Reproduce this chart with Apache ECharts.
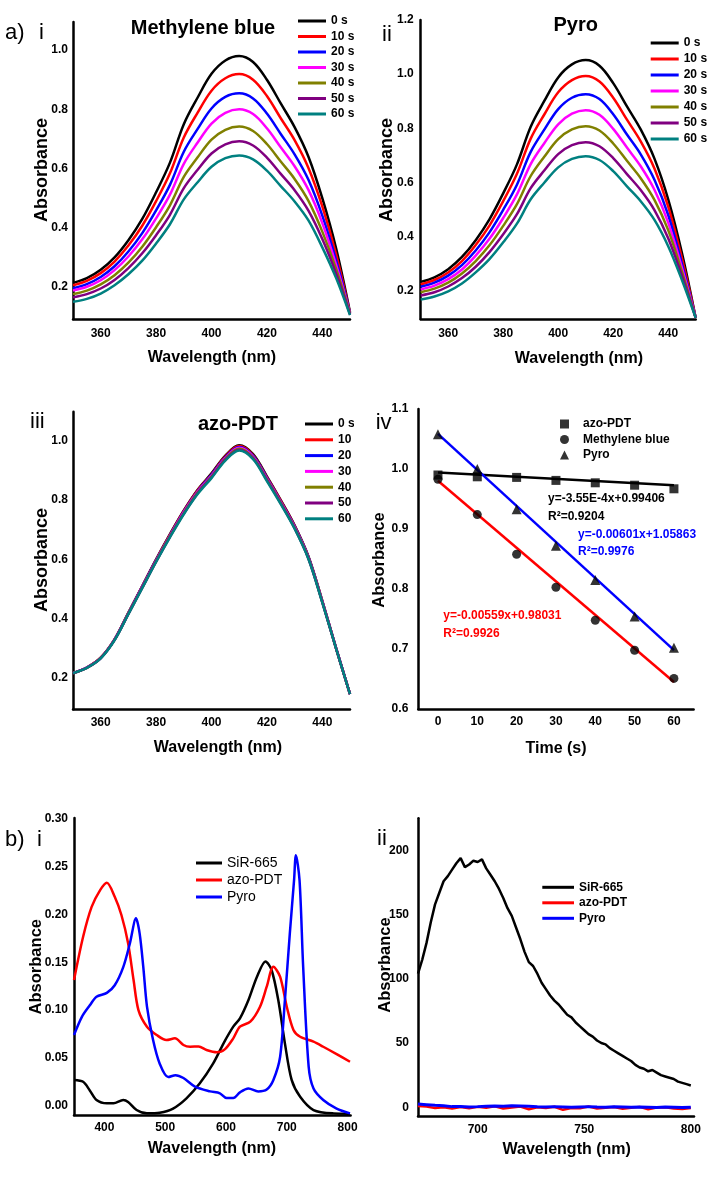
<!DOCTYPE html>
<html><head><meta charset="utf-8">
<script src="https://cdn.jsdelivr.net/npm/echarts@6/dist/echarts.min.js"></script>
<style>html,body{margin:0;padding:0;background:#fff;width:708px;height:1178px;overflow:hidden}.p{position:absolute}</style>
</head><body>
<script>
// ---------- data ----------
const wlA = [350,355,360,365,370,375,380,385,390,395,400,405,410,415,420,425,430,435,440,445,450];
const timeLabels = ['0 s','10 s','20 s','30 s','40 s','50 s','60 s'];
const timeColors = ['#000000','#ff0000','#0000ff','#ff00ff','#808000','#800080','#008080'];
// a-i Methylene blue
const mb0  = [0.214,0.230,0.258,0.300,0.358,0.430,0.520,0.620,0.750,0.840,0.920,0.965,0.980,0.960,0.900,0.820,0.740,0.640,0.500,0.330,0.115];
const mb10 = [0.206,0.221,0.247,0.286,0.340,0.407,0.490,0.584,0.705,0.789,0.863,0.905,0.919,0.900,0.845,0.770,0.696,0.602,0.472,0.310,0.113];
const mb20 = [0.196,0.210,0.234,0.270,0.320,0.382,0.459,0.545,0.657,0.734,0.803,0.842,0.854,0.837,0.786,0.717,0.648,0.562,0.441,0.290,0.112];
const mb30 = [0.188,0.201,0.223,0.257,0.303,0.361,0.432,0.512,0.616,0.688,0.752,0.788,0.800,0.784,0.736,0.672,0.608,0.528,0.416,0.275,0.111];
const mb40 = [0.176,0.188,0.209,0.240,0.282,0.336,0.402,0.476,0.572,0.638,0.698,0.731,0.742,0.727,0.683,0.624,0.565,0.491,0.387,0.260,0.110];
const mb50 = [0.165,0.176,0.195,0.224,0.264,0.314,0.375,0.444,0.534,0.596,0.651,0.682,0.692,0.678,0.637,0.582,0.527,0.458,0.362,0.245,0.108];
const mb60 = [0.150,0.160,0.178,0.206,0.243,0.289,0.347,0.412,0.496,0.554,0.606,0.635,0.644,0.631,0.593,0.541,0.489,0.425,0.334,0.230,0.105];
// a-ii Pyro
const py0  = [0.233,0.250,0.280,0.325,0.387,0.464,0.560,0.667,0.806,0.902,0.988,1.036,1.052,1.031,0.967,0.881,0.796,0.688,0.538,0.340,0.100];
const py10 = [0.224,0.240,0.268,0.310,0.369,0.441,0.531,0.632,0.762,0.852,0.933,0.978,0.993,0.973,0.913,0.832,0.752,0.652,0.511,0.320,0.100];
const py20 = [0.215,0.230,0.256,0.295,0.349,0.416,0.499,0.592,0.713,0.796,0.871,0.913,0.926,0.908,0.852,0.777,0.704,0.610,0.480,0.300,0.100];
const py30 = [0.205,0.219,0.243,0.279,0.330,0.392,0.469,0.556,0.668,0.746,0.815,0.854,0.867,0.850,0.798,0.729,0.660,0.573,0.452,0.285,0.100];
const py40 = [0.195,0.208,0.230,0.264,0.310,0.368,0.440,0.520,0.624,0.696,0.760,0.796,0.808,0.792,0.744,0.680,0.616,0.536,0.424,0.270,0.100];
const py50 = [0.183,0.195,0.216,0.247,0.289,0.343,0.409,0.483,0.579,0.645,0.705,0.738,0.749,0.734,0.690,0.631,0.572,0.498,0.394,0.255,0.100];
const py60 = [0.168,0.179,0.198,0.227,0.268,0.317,0.379,0.448,0.538,0.600,0.656,0.687,0.697,0.683,0.642,0.586,0.531,0.462,0.365,0.240,0.100];
// a-iii azo-PDT
const az0  = [0.216,0.235,0.268,0.330,0.420,0.510,0.600,0.685,0.765,0.835,0.890,0.950,0.985,0.955,0.880,0.800,0.715,0.610,0.460,0.300,0.145];
const az10 = [0.216,0.235,0.268,0.330,0.419,0.509,0.598,0.683,0.763,0.833,0.887,0.947,0.982,0.952,0.877,0.798,0.713,0.608,0.459,0.300,0.145];
const az20 = [0.216,0.235,0.267,0.329,0.418,0.508,0.597,0.681,0.761,0.830,0.885,0.944,0.979,0.949,0.875,0.795,0.711,0.607,0.458,0.300,0.145];
const az30 = [0.216,0.235,0.267,0.329,0.417,0.506,0.595,0.679,0.759,0.828,0.882,0.941,0.976,0.946,0.872,0.793,0.709,0.605,0.457,0.299,0.145];
const az40 = [0.216,0.234,0.267,0.328,0.417,0.505,0.594,0.678,0.756,0.825,0.879,0.939,0.973,0.943,0.870,0.791,0.707,0.604,0.456,0.298,0.145];
const az50 = [0.216,0.234,0.267,0.328,0.416,0.504,0.592,0.676,0.754,0.823,0.877,0.936,0.970,0.941,0.867,0.789,0.705,0.602,0.455,0.298,0.145];
const az60 = [0.216,0.234,0.266,0.327,0.415,0.503,0.591,0.674,0.752,0.820,0.874,0.933,0.967,0.938,0.864,0.786,0.703,0.601,0.454,0.298,0.145];
// a-iv kinetics
const timeS   = [0,10,20,30,40,50,60];
const ivAzo   = [0.990,0.987,0.986,0.981,0.977,0.973,0.967];
const ivMB    = [0.983,0.924,0.858,0.803,0.748,0.698,0.651];
const ivPyro  = [1.058,1.000,0.933,0.872,0.815,0.754,0.702];
const fitX    = [0,60];
const fitAzo  = [0.99406,0.97276];
const fitMB   = [0.98031,0.64491];
const fitPyro = [1.05863,0.69803];
const eqAzo  = ['y=-3.55E-4x+0.99406','R\u00B2=0.9204'];
const eqPyro = ['y=-0.00601x+1.05863','R\u00B2=0.9976'];
const eqMB   = ['y=-0.00559x+0.98031','R\u00B2=0.9926'];
// b-i absorption
const sirX = [350,365,376,387,404,415,431,439,453,470,491,513,535,557,579,596,612,623,637,651,665,675,686,697,708,722,744,777,804];
const sirY = [0.027,0.025,0.016,0.006,0.0025,0.0025,0.006,0.004,-0.0045,-0.008,-0.0073,-0.003,0.0077,0.0234,0.0443,0.0653,0.0827,0.0914,0.1106,0.135,0.151,0.142,0.1106,0.065,0.027,0.0094,-0.0045,-0.008,-0.0083];
const azoX = [350,365,379,393,404,417,428,439,448,456,470,486,502,516,530,541,555,568,585,598,612,623,640,656,667,678,689,700,711,722,744,760,782,804];
const azoY = [0.1315,0.1768,0.208,0.2256,0.2333,0.2186,0.1995,0.170,0.1315,0.1001,0.0827,0.074,0.0687,0.0705,0.0635,0.0617,0.062,0.0583,0.0559,0.059,0.0705,0.0827,0.0879,0.1036,0.1245,0.1454,0.135,0.1036,0.0792,0.0722,0.067,0.0617,0.054,0.046];
const pyrX = [350,363,376,387,404,417,431,442,452,458,464,470,480,491,505,517,530,549,574,590,601,612,623,637,653,667,678,689,697,705,712,715,721,727,736,744,760,782,804];
const pyrY = [0.074,0.093,0.105,0.114,0.118,0.126,0.145,0.170,0.196,0.180,0.145,0.104,0.069,0.044,0.030,0.032,0.029,0.020,0.015,0.013,0.008,0.008,0.014,0.018,0.015,0.017,0.027,0.051,0.111,0.180,0.236,0.262,0.236,0.145,0.041,0.018,0.006,-0.003,-0.008];
// b-ii emission
const emX  = [672,674,676,678,680,682,684,686,688,690,692,694,696,698,700,702,704,706,708,710,712,714,716,718,720,722,724,726,728,730,732,734,736,738,740,742,744,746,748,750,752,754,756,758,760,762,764,766,768,770,772,774,776,778,780,782,784,786,788,790,792,794,796,798,800];
const emSir= [104,115,128,144,158,167,176,180,185,190,194,187,189,192,191,193,186,181,176,170,163,155,149,140,131,121,113,110,104,97,92,87,83,80,76,72,70,66,63,60,57,55,52,50,49,46,44,42,40,38,36,33,31,30,28,29,27,25,24,23,22,20,19,18,17];
const emX2 = [672,676,680,684,688,692,696,700,704,708,712,716,720,724,728,732,736,740,744,748,752,756,760,764,768,772,776,780,784,788,792,796,800];
const emAzo= [1,0.5,-0.5,0,-1,0.2,-0.8,0.3,-0.4,0.8,-1,-0.2,0.5,-1.5,0,-0.6,0.4,-2,-0.5,-0.8,0.6,-1,-0.3,0.2,-1.2,-0.4,0.3,-1.5,-0.2,0,-0.9,-1.3,-0.5];
const emPyr= [2.5,2,1.5,1.2,0.5,0.6,0.3,0.5,0.8,1,0.7,1.2,1,0.8,0.4,0.2,0.5,0.3,0.1,0.3,0.5,0.2,0.1,0.4,0.2,0,0.3,0.1,-0.1,0.2,0,-0.2,0.1];
const bNames = ['SiR-665','azo-PDT','Pyro'];
const bColors = ['#000000','#ff0000','#0000ff'];
const tickA = [360,380,400,420,440];

// ---------- helpers ----------
const FONT = '"Liberation Sans", Arial, Helvetica, sans-serif';
const zip = (xs, ys) => xs.map((x, i) => [x, ys[i]]);
function mk(left, top, w, h, opt) {
  const d = document.createElement('div');
  d.className = 'p';
  d.style.cssText = `left:${left}px;top:${top}px;width:${w}px;height:${h}px`;
  document.body.appendChild(d);
  const c = echarts.init(d, null, {renderer: 'canvas'});
  opt.animation = false;
  opt.backgroundColor = 'transparent';
  c.setOption(opt);
  return c;
}
function axis(min, max, ticks, margin, fmt) {
  return {
    type: 'value', min, max,
    axisLine: {show: true, onZero: false, lineStyle: {color: '#000', width: 2.5}},
    axisTick: {show: false}, splitLine: {show: false},
    axisLabel: {customValues: ticks, margin, color: '#000', fontWeight: 'bold', fontSize: 12,
      fontFamily: FONT, formatter: fmt || (v => String(v))}
  };
}
function txt(x, y, s, size, weight, color, align, rot) {
  const t = {type: 'text', x, y, silent: true,
    style: {text: s, fontSize: size, fontWeight: weight, fontFamily: FONT, fill: color,
      align: align || 'center', verticalAlign: 'middle'}};
  if (rot) t.rotation = rot;
  return t;
}
function lines(arrs, names, colors, width) {
  return arrs.map((a, i) => ({
    type: 'line', name: names[i], data: zip(wlA, a), showSymbol: false, symbol: 'none',
    smooth: 0.35, lineStyle: {color: colors[i], width: width}, itemStyle: {color: colors[i]}
  }));
}
function legendOf(left, top, names, w, h, gap, size, weight, lh) {
  return {orient: 'vertical', left, top, padding: 0, itemWidth: w, itemHeight: h, itemGap: gap,
    icon: 'rect', selectedMode: false, data: names,
    textStyle: {color: '#000', fontSize: size, fontWeight: weight, fontFamily: FONT, lineHeight: lh}};
}
const f1 = v => v.toFixed(1);
const f2 = v => v.toFixed(2);
const ROT = Math.PI / 2;

// ---------- a-i ----------
mk(0, 0, 354, 392, {
  grid: {left: 73, top: 22, width: 277, height: 297, outerBoundsMode: 'none'},
  xAxis: axis(350, 450, tickA, 9),
  yAxis: axis(0.092, 1.095, [0.2,0.4,0.6,0.8,1.0], 5, f1),
  legend: legendOf(298, 15, timeLabels, 28, 3, 3.5, 12, 'bold', 12),
  series: lines([mb0,mb10,mb20,mb30,mb40,mb50,mb60], timeLabels, timeColors, 2.5),
  graphic: [
    txt(5, 33, 'a)', 22, 'normal', '#000', 'left'),
    txt(39, 33, 'i', 22, 'normal', '#000', 'left'),
    txt(203, 28, 'Methylene blue', 20, 'bold', '#000'),
    txt(42, 170, 'Absorbance', 18, 'bold', '#000', 'center', ROT),
    txt(212, 358, 'Wavelength (nm)', 16, 'bold', '#000')
  ]
});
// ---------- a-ii ----------
mk(354, 0, 354, 392, {
  grid: {left: 66.7, top: 20, width: 275, height: 299, outerBoundsMode: 'none'},
  xAxis: axis(350, 450, tickA, 9),
  yAxis: axis(0.096, 1.2, [0.2,0.4,0.6,0.8,1.0,1.2], 7, f1),
  legend: legendOf(296.7, 37, timeLabels, 28, 3, 4, 12, 'bold', 12),
  series: lines([py0,py10,py20,py30,py40,py50,py60], timeLabels, timeColors, 2.5),
  graphic: [
    txt(28, 35, 'ii', 22, 'normal', '#000', 'left'),
    txt(221.7, 25, 'Pyro', 20, 'bold', '#000'),
    txt(33, 170, 'Absorbance', 18, 'bold', '#000', 'center', ROT),
    txt(225, 359, 'Wavelength (nm)', 16, 'bold', '#000')
  ]
});
// ---------- a-iii ----------
mk(0, 392, 354, 398, {
  grid: {left: 73, top: 19.7, width: 277, height: 297.6, outerBoundsMode: 'none'},
  xAxis: axis(350, 450, tickA, 7),
  yAxis: axis(0.094, 1.098, [0.2,0.4,0.6,0.8,1.0], 5, f1),
  legend: legendOf(305, 26, timeLabels, 28, 3, 3.8, 12, 'bold', 12),
  series: lines([az0,az10,az20,az30,az40,az50,az60], timeLabels, timeColors, 2.5),
  graphic: [
    txt(30, 29.7, 'iii', 22, 'normal', '#000', 'left'),
    txt(238, 32, 'azo-PDT', 20, 'bold', '#000'),
    txt(42, 168, 'Absorbance', 18, 'bold', '#000', 'center', ROT),
    txt(218, 356, 'Wavelength (nm)', 16, 'bold', '#000')
  ]
});
// ---------- a-iv ----------
mk(354, 392, 354, 398, {
  grid: {left: 64.3, top: 17, width: 275.3, height: 300, outerBoundsMode: 'none'},
  xAxis: axis(-5, 65, timeS, 7),
  yAxis: axis(0.6, 1.1, [0.6,0.7,0.8,0.9,1.0,1.1], 10, f1),
  legend: {orient: 'vertical', left: 206, top: 26, padding: 0, itemWidth: 9, itemHeight: 9, itemGap: 3.5,
    selectedMode: false,
    data: [{name: 'azo-PDT', icon: 'rect'}, {name: 'Methylene blue', icon: 'circle'}, {name: 'Pyro', icon: 'triangle'}],
    textStyle: {color: '#000', fontSize: 12, fontWeight: 'bold', fontFamily: FONT, lineHeight: 12, padding: [0,0,0,9]}},
  series: [
    {type: 'line', name: 'fit azo-PDT', data: zip(fitX, fitAzo), symbol: 'none', lineStyle: {color: '#000', width: 2.5}},
    {type: 'line', name: 'fit Pyro', data: zip(fitX, fitPyro), symbol: 'none', lineStyle: {color: '#0000ff', width: 2.5}},
    {type: 'line', name: 'fit Methylene blue', data: zip(fitX, fitMB), symbol: 'none', lineStyle: {color: '#ff0000', width: 2.5}},
    {type: 'scatter', name: 'azo-PDT', data: zip(timeS, ivAzo), symbol: 'rect', symbolSize: 9, itemStyle: {color: '#000'}, z: 5},
    {type: 'scatter', name: 'Methylene blue', data: zip(timeS, ivMB), symbol: 'circle', symbolSize: 9, itemStyle: {color: '#000'}, z: 5},
    {type: 'scatter', name: 'Pyro', data: zip(timeS, ivPyro), symbol: 'triangle', symbolSize: 10, itemStyle: {color: '#000'}, z: 5}
  ],
  graphic: [
    txt(21.7, 31, 'iv', 22, 'normal', '#000', 'left'),
    txt(25, 168, 'Absorbance', 16.5, 'bold', '#000', 'center', ROT),
    txt(202, 357, 'Time (s)', 16, 'bold', '#000'),
    txt(194, 107, eqAzo[0], 12, 'bold', '#000', 'left'),
    txt(194, 124.7, eqAzo[1], 12, 'bold', '#000', 'left'),
    txt(224, 142.3, eqPyro[0], 12, 'bold', '#0000ff', 'left'),
    txt(224, 159.7, eqPyro[1], 12, 'bold', '#0000ff', 'left'),
    txt(89.3, 224, eqMB[0], 12, 'bold', '#ff0000', 'left'),
    txt(89.3, 242, eqMB[1], 12, 'bold', '#ff0000', 'left')
  ]
});
// ---------- b-i ----------
mk(0, 790, 372, 388, {
  grid: {left: 74, top: 28, width: 276.6, height: 297, outerBoundsMode: 'none'},
  xAxis: axis(350, 805, [400,500,600,700,800], 7),
  yAxis: axis(-0.0097, 0.301, [0,0.05,0.10,0.15,0.20,0.25,0.30], 6, f2),
  legend: legendOf(196, 66, bNames, 26, 3, 3, 14, 'normal', 14),
  series: [[sirX, sirY], [azoX, azoY], [pyrX, pyrY]].map((p, i) => ({
    type: 'line', name: bNames[i], data: zip(p[0], p[1]), symbol: 'none', smooth: 0.3,
    lineStyle: {color: bColors[i], width: 2.5}, itemStyle: {color: bColors[i]}
  })),
  graphic: [
    txt(5, 50, 'b)', 22, 'normal', '#000', 'left'),
    txt(37, 50, 'i', 22, 'normal', '#000', 'left'),
    txt(36.7, 176.7, 'Absorbance', 16.5, 'bold', '#000', 'center', ROT),
    txt(212, 359, 'Wavelength (nm)', 16, 'bold', '#000')
  ]
});
// ---------- b-ii ----------
mk(354, 790, 354, 388, {
  grid: {left: 64, top: 28.3, width: 276, height: 297.7, outerBoundsMode: 'none'},
  xAxis: axis(672, 801.5, [700,750,800], 8),
  yAxis: axis(-6.8, 225, [0,50,100,150,200], 9),
  legend: legendOf(188.3, 91.3, bNames, 31.7, 3, 3.5, 12, 'bold', 12),
  series: [
    {type: 'line', name: 'SiR-665', data: zip(emX, emSir), symbol: 'none', lineStyle: {color: '#000', width: 2.5}, itemStyle: {color: '#000'}},
    {type: 'line', name: 'azo-PDT', data: zip(emX2, emAzo), symbol: 'none', lineStyle: {color: '#ff0000', width: 2.5}, itemStyle: {color: '#ff0000'}},
    {type: 'line', name: 'Pyro', data: zip(emX2, emPyr), symbol: 'none', lineStyle: {color: '#0000ff', width: 3}, itemStyle: {color: '#0000ff'}}
  ],
  graphic: [
    txt(23, 49, 'ii', 22, 'normal', '#000', 'left'),
    txt(31.7, 175, 'Absorbance', 16.5, 'bold', '#000', 'center', ROT),
    txt(212.7, 360, 'Wavelength (nm)', 16, 'bold', '#000')
  ]
});
</script>
</body></html>
